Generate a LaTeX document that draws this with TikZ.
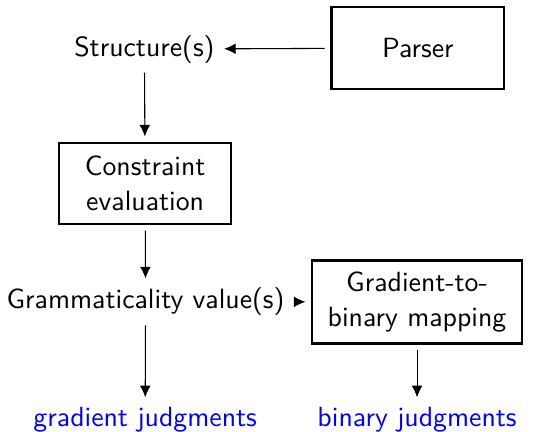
\documentclass[tikz,border=0pt]{standalone}
\usetikzlibrary{arrows.meta}
\renewcommand{\familydefault}{\sfdefault}
\tikzset{
  box/.style={draw, line width=0.9pt, align=center, outer sep=2.5pt, inner sep=0pt},
  flow/.style={-{Latex[length=4.3pt, width=4pt]}, line width=0.4pt},
  judgment/.style={text=blue}
}
\begin{document}
\begin{tikzpicture}[font=\fontsize{10.3}{13}\selectfont]
  \useasboundingbox (0,0) rectangle (7.148,-5.612);
  % Kasten und Texte
  \node[box, minimum width=2.25cm, minimum height=1.07cm] (parser) at (5.44,-0.625) {Parser};
  \node (struct) at (1.88,-0.64) {Structure(s)};
  \node[box, minimum width=2.24cm, minimum height=1.05cm] (constr) at (1.89,-2.39) {Constraint\\evaluation};
  \node (gramm) at (1.895,-3.93) {Grammaticality value(s)};
  \node[box, minimum width=2.73cm, minimum height=1.08cm] (mapping) at (5.43,-3.93) {Gradient-to-\\binary mapping};
  \node[judgment] (gradj) at (1.89,-5.46) {gradient judgments};
  \node[judgment] (binj) at (5.43,-5.46) {binary judgments};
  % Pfeile
  \draw[flow] (parser) -- (struct);
  \draw[flow] (struct) -- (constr);
  \draw[flow] (constr) -- (gramm);
  \draw[flow] (gramm) -- (mapping);
  \draw[flow] (gramm) -- (gradj);
  \draw[flow] (mapping) -- (binj);
\end{tikzpicture}
\end{document}
